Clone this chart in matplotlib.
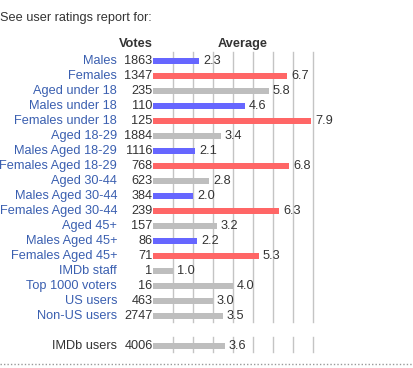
import matplotlib.pyplot as plt

# -------------------------
# DATA
# -------------------------
groups = [
    'Males', 'Females', 'Aged under 18', 'Males under 18', 'Females under 18',
    'Aged 18-29', 'Males Aged 18-29', 'Females Aged 18-29',
    'Aged 30-44', 'Males Aged 30-44', 'Females Aged 30-44',
    'Aged 45+', 'Males Aged 45+', 'Females Aged 45+',
    'IMDb staff', 'Top 1000 voters', 'US users', 'Non-US users',
]
votes = [1863, 1347, 235, 110, 125, 1884, 1116, 768, 623, 384, 239,
         157, 86, 71, 1, 16, 463, 2747]
averages = [2.3, 6.7, 5.8, 4.6, 7.9, 3.4, 2.1, 6.8, 2.8, 2.0, 6.3,
            3.2, 2.2, 5.3, 1.0, 4.0, 3.0, 3.5]
kinds = ['m', 'f', 'a', 'm', 'f', 'a', 'm', 'f', 'a', 'm', 'f',
         'a', 'm', 'f', 'a', 'a', 'a', 'a']

total_label = 'IMDb users'
total_votes = 4006
total_avg = 3.6

# -------------------------
# STYLE
# -------------------------
colors = {'m': '#6666ff', 'f': '#ff6666', 'a': '#bebebe'}
link_color = '#3a5fb0'
text_color = '#333333'
grid_color = '#c4c4c4'
plt.rcParams['font.family'] = ['Liberation Sans', 'DejaVu Sans']

fig = plt.figure(figsize=(4.13, 3.68), dpi=100)
ax = fig.add_axes([0, 0, 1, 1])
ax.set_xlim(-7.65, 13.0)
ax.set_ylim(20.47, -4.07)
ax.axis('off')

fs = 9.2

# gridlines
for gx in range(1, 9):
    ax.plot([gx, gx], [-0.6, 17.4], color=grid_color, lw=1, zorder=0)
    ax.plot([gx, gx], [18.4, 19.4], color=grid_color, lw=1, zorder=0)

rows = list(range(len(groups)))
ax.barh(rows, averages, height=0.4, left=0,
        color=[colors[k] for k in kinds], zorder=2)
ax.barh([19], [total_avg], height=0.4, color=colors['a'], zorder=2)

for r, g, v, a in zip(rows + [19], groups + [total_label],
                      votes + [total_votes], averages + [total_avg]):
    ax.text(-1.8, r, g, ha='right', va='center', fontsize=fs,
            color=link_color if r != 19 else text_color)
    ax.text(-0.02, r, str(v), ha='right', va='center', fontsize=fs,
            color=text_color)
    ax.text(a + 0.2, r, f'{a:.1f}', ha='left', va='center', fontsize=fs,
            color=text_color)

# headers
ax.text(-7.65, -2.87, 'See user ratings report for:', ha='left',
        va='center', fontsize=fs, color=text_color)
ax.text(0, -1.13, 'Votes', ha='right', va='center', fontsize=fs,
        fontweight='bold', color=text_color)
ax.text(4.5, -1.13, 'Average', ha='center', va='center', fontsize=fs,
        fontweight='bold', color=text_color)

# dotted separator
ax.plot([-7.65, 13.0], [20.2, 20.2], color='#999999', lw=1,
        linestyle=(0, (1, 1.5)))

fig.savefig('out.png', dpi=100)
